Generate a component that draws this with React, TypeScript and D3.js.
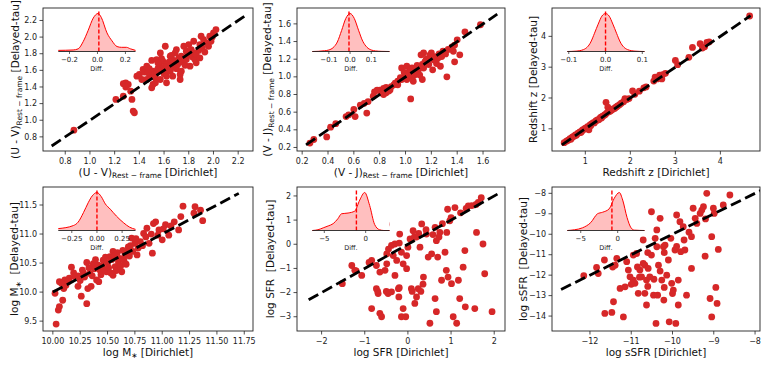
import React from "react";
import * as d3 from "d3";

// ---- values ----
// scatter: [Dirichlet, Delayed-tau]
const uvPoints: [number, number][] = [
  [0.87, 0.88], [1.21, 1.25], [1.27, 1.29], [1.29, 1.45], [1.27, 1.44], [1.31, 1.43], [1.29, 1.4],
  [1.34, 1.25], [1.35, 1.11], [1.36, 1.09], [1.33, 1.35], [1.38, 1.53], [1.4, 1.55], [1.42, 1.49],
  [1.43, 1.61], [1.44, 1.58], [1.46, 1.49], [1.46, 1.65], [1.48, 1.62], [1.49, 1.53], [1.5, 1.72],
  [1.5, 1.39], [1.51, 1.59], [1.51, 1.43], [1.52, 1.55], [1.53, 1.51], [1.54, 1.73], [1.54, 1.57],
  [1.55, 1.62], [1.56, 1.66], [1.57, 1.81], [1.57, 1.49], [1.58, 1.6], [1.59, 1.71], [1.6, 1.56],
  [1.6, 1.64], [1.61, 1.89], [1.62, 1.65], [1.62, 1.53], [1.62, 1.45], [1.63, 1.6], [1.64, 1.7],
  [1.65, 1.59], [1.65, 1.77], [1.66, 1.63], [1.67, 1.53], [1.67, 1.67], [1.68, 1.72], [1.69, 1.81],
  [1.7, 1.62], [1.71, 1.67], [1.72, 1.75], [1.73, 1.55], [1.74, 1.77], [1.74, 1.59], [1.75, 1.7],
  [1.76, 1.89], [1.77, 1.66], [1.78, 1.83], [1.78, 1.73], [1.79, 1.78], [1.8, 1.91], [1.81, 1.65],
  [1.82, 1.85], [1.83, 1.76], [1.84, 1.95], [1.84, 1.81], [1.85, 1.73], [1.86, 1.79], [1.86, 1.69],
  [1.88, 1.84], [1.89, 1.91], [1.89, 1.75], [1.9, 2.01], [1.91, 1.87], [1.92, 1.97], [1.93, 1.82],
  [1.95, 1.93], [1.96, 1.89], [1.97, 2.01], [1.98, 1.95], [2.0, 2.05], [2.02, 2.09], [1.99, 2.0],
  [1.7, 1.85], [1.58, 1.74], [1.66, 1.78], [1.55, 1.69], [1.47, 1.57], [1.53, 1.45], [1.73, 1.49],
];

const vjPoints: [number, number][] = [
  [0.26, 0.25], [0.29, 0.29], [0.39, 0.32], [0.42, 0.43], [0.46, 0.47], [0.54, 0.55], [0.56, 0.57],
  [0.61, 0.55], [0.65, 0.68], [0.7, 0.59], [0.71, 0.72], [0.76, 0.83], [0.8, 0.85], [0.83, 0.8],
  [0.85, 0.88], [0.88, 0.85], [0.91, 0.91], [0.94, 0.95], [0.97, 0.97], [0.99, 1.0], [1.04, 0.75],
  [1.03, 1.06], [1.05, 1.1], [1.07, 1.02], [1.1, 1.08], [1.13, 1.14], [1.15, 1.17], [1.18, 1.21],
  [1.2, 1.27], [1.23, 1.23], [1.26, 1.26], [1.27, 1.12], [1.29, 1.29], [1.32, 1.0], [1.36, 1.34],
  [1.38, 1.17], [1.4, 1.42], [1.42, 1.25], [1.46, 1.51], [1.58, 1.59], [1.12, 1.25], [1.14, 1.27],
  [1.21, 1.08], [0.97, 1.1], [1.01, 1.12], [0.92, 0.93], [0.85, 0.82], [0.81, 0.82], [0.78, 0.85],
  [0.75, 0.78], [0.89, 0.89], [0.94, 0.91], [1.01, 0.97], [1.05, 1.0], [1.07, 1.06], [1.11, 1.02],
  [1.14, 1.1], [1.18, 1.14], [1.24, 1.15], [1.28, 1.23], [1.33, 1.31], [1.37, 1.29], [1.38, 1.36],
  [1.02, 1.02], [0.99, 1.05], [1.06, 0.95], [1.13, 0.97], [0.68, 0.7], [0.6, 0.63], [0.87, 0.84],
  [1.16, 1.2], [1.22, 1.19], [1.09, 1.13], [0.96, 0.99], [1.0, 1.04], [1.04, 1.08], [1.25, 1.21],
  [1.31, 1.26], [1.19, 1.25], [0.83, 0.87],
];

const zPoints: [number, number][] = [
  [0.53, 0.55], [0.58, 0.6], [0.62, 0.63], [0.66, 0.68], [0.68, 0.66], [0.72, 0.74], [0.75, 0.76],
  [0.78, 0.8], [0.8, 0.79], [0.83, 0.85], [0.86, 0.87], [0.88, 0.9], [0.9, 0.88], [0.93, 0.95],
  [0.95, 0.97], [0.98, 0.99], [1.0, 1.02], [1.02, 1.0], [1.05, 1.07], [1.07, 1.05], [1.08, 0.97],
  [1.1, 1.12], [1.12, 1.1], [1.15, 1.17], [1.18, 1.2], [1.2, 1.19], [1.23, 1.25], [1.25, 1.27],
  [1.28, 1.3], [1.3, 1.29], [1.33, 1.35], [1.35, 1.38], [1.38, 1.4], [1.4, 1.42], [1.43, 1.45],
  [1.45, 1.47], [1.46, 1.86], [1.5, 1.7], [1.48, 1.52], [1.52, 1.55], [1.55, 1.57], [1.58, 1.6],
  [1.62, 1.65], [1.65, 1.66], [1.68, 1.7], [1.72, 1.74], [1.76, 1.78], [1.8, 1.83], [1.85, 1.88],
  [1.88, 1.98], [1.92, 1.95], [1.97, 1.98], [2.05, 2.23], [2.1, 2.12], [2.2, 2.22], [2.3, 2.33],
  [2.35, 2.36], [2.52, 2.55], [2.55, 2.68], [2.6, 2.62], [2.65, 2.74], [2.7, 2.62], [2.72, 2.76],
  [2.78, 2.8], [3.0, 3.22], [3.05, 3.08], [3.3, 3.32], [3.38, 3.64], [3.55, 3.76], [3.6, 3.62],
  [3.65, 3.66], [3.7, 3.8], [3.75, 3.82], [4.65, 4.66], [0.7, 0.71], [0.92, 0.91], [1.13, 1.15],
  [1.36, 1.35], [1.6, 1.63], [1.7, 1.72],
];

const massPoints: [number, number][] = [
  [10.03, 9.45], [10.05, 9.69], [10.06, 9.75], [10.09, 9.86], [10.02, 9.98], [10.06, 10.18],
  [10.11, 10.21], [10.15, 10.24], [10.17, 10.43], [10.2, 10.27], [10.23, 10.1], [10.26, 9.93],
  [10.31, 9.8], [10.32, 10.06], [10.29, 10.26], [10.34, 10.32], [10.37, 10.49], [10.4, 10.21],
  [10.43, 10.38], [10.46, 10.55], [10.49, 10.35], [10.52, 10.61], [10.55, 10.7], [10.57, 10.44],
  [10.6, 10.52], [10.63, 10.35], [10.66, 10.64], [10.69, 10.78], [10.72, 10.93], [10.75, 10.84],
  [10.77, 10.64], [10.8, 10.87], [10.83, 11.01], [10.86, 11.1], [10.88, 10.84], [10.91, 10.67],
  [10.94, 11.21], [10.97, 11.07], [11.0, 10.9], [11.03, 11.16], [11.06, 10.98], [11.11, 11.21],
  [11.15, 11.07], [11.17, 11.3], [11.19, 11.48], [11.3, 11.47], [11.35, 11.41], [11.37, 11.23],
  [11.29, 11.36], [10.12, 10.12], [10.08, 10.15], [10.25, 10.2], [10.28, 10.33], [10.33, 10.42],
  [10.36, 10.28], [10.38, 10.4], [10.41, 10.47], [10.44, 10.3], [10.45, 10.45], [10.47, 10.39],
  [10.5, 10.5], [10.51, 10.42], [10.53, 10.33], [10.54, 10.56], [10.56, 10.62], [10.58, 10.37],
  [10.59, 10.68], [10.61, 10.58], [10.62, 10.45], [10.64, 10.72], [10.65, 10.55], [10.67, 10.48],
  [10.68, 10.7], [10.7, 10.62], [10.71, 10.8], [10.73, 10.7], [10.76, 10.92], [10.78, 10.76],
  [10.82, 10.8], [10.85, 10.95], [10.9, 11.0], [10.92, 11.18], [10.96, 10.98], [11.01, 11.09],
  [11.08, 11.14], [10.39, 10.56], [10.48, 10.6], [10.23, 10.28], [10.19, 10.33], [10.14, 10.18],
  [10.1, 10.06], [10.35, 10.1], [10.42, 10.18], [10.55, 10.29], [10.31, 10.51], [10.27, 10.38],
];

const sfrPoints: [number, number][] = [
  [-1.52, -1.63], [-1.3, -0.88], [-1.23, -1.08], [-1.07, -1.29], [-0.84, -0.67], [-0.84, -2.66],
  [-0.73, -1.84], [-0.69, -2.04], [-0.65, -2.86], [-0.61, -3.0], [-0.53, -1.08], [-0.49, -0.4],
  [-0.46, -2.04], [-0.38, -1.97], [-0.38, -0.05], [-0.3, 0.01], [-0.3, -1.29], [-0.26, -0.67],
  [-0.22, -1.84], [-0.21, -2.18], [-0.19, 0.42], [-0.15, -3.0], [-0.11, -2.66], [-0.05, -3.0],
  [-0.03, -0.47], [0.0, -0.12], [0.05, 0.22], [0.08, -1.84], [0.12, 0.56], [0.16, -2.45],
  [0.2, -2.18], [0.24, -1.84], [0.28, -0.12], [0.32, 0.84], [0.36, -1.36], [0.43, 0.42],
  [0.47, -0.53], [0.51, -3.27], [0.55, -0.4], [0.63, 0.7], [0.63, -2.25], [0.66, -2.79],
  [0.66, 0.15], [0.69, -0.53], [0.74, 0.49], [0.78, -1.49], [0.86, -0.33], [0.89, -1.08],
  [0.9, 0.49], [0.93, -1.36], [0.97, 0.97], [1.01, -1.63], [1.05, -3.0], [1.09, 1.52],
  [1.13, -3.27], [1.17, -1.49], [1.2, -2.25], [1.28, -0.95], [1.32, -0.26], [1.33, -2.59],
  [1.4, 1.59], [1.55, -2.66], [1.59, 0.49], [1.63, 1.73], [1.7, 1.93], [1.74, 0.01], [1.78, -1.22],
  [1.95, -2.79], [-1.2, -1.1], [-0.9, -0.75], [-0.45, -0.2], [-0.2, 0.05], [0.15, 0.3], [0.25, 0.45],
  [0.42, 0.6], [0.8, 0.85], [1.0, 1.1], [1.22, 1.3], [1.35, 1.48], [1.48, 1.6], [1.58, 1.65],
  [0.92, 1.45], [-0.15, -0.33], [-0.11, -0.81], [-0.03, -1.01], [-0.73, -0.88], [-0.65, -1.15],
  [-0.49, -0.81], [-0.34, -0.47], [-0.7, -1.95], [-0.5, -1.95], [-0.2, -1.8], [0.1, -1.95],
  [0.3, -1.95], [0.35, -1.65], [-0.5, 0.83], [0.58, 0.4], [0.72, 0.3], [0.2, 0.3],
];

const ssfrPoints: [number, number][] = [
  [-12.15, -12.03], [-11.84, -11.62], [-11.8, -11.92], [-11.65, -11.26], [-11.64, -13.87],
  [-11.47, -13.82], [-11.43, -13.3], [-11.39, -11.51], [-11.35, -11.18], [-11.27, -12.65],
  [-11.19, -14.04], [-11.15, -12.57], [-11.11, -11.34], [-11.07, -11.75], [-11.03, -12.08],
  [-10.95, -11.02], [-10.91, -12.4], [-10.87, -10.94], [-10.83, -12.89], [-10.79, -11.75],
  [-10.75, -12.08], [-10.71, -10.28], [-10.71, -11.43], [-10.67, -11.51], [-10.67, -12.89],
  [-10.63, -12.24], [-10.63, -13.46], [-10.59, -11.67], [-10.55, -12.08], [-10.51, -8.9],
  [-10.51, -11.02], [-10.46, -12.98], [-10.42, -10.2], [-10.4, -14.36], [-10.38, -9.79],
  [-10.38, -10.61], [-10.36, -12.98], [-10.34, -11.51], [-10.3, -9.22], [-10.26, -12.24],
  [-10.22, -10.61], [-10.21, -13.22], [-10.18, -10.53], [-10.14, -12.0], [-10.1, -11.26],
  [-10.08, -14.28], [-10.04, -10.2], [-10.02, -12.4], [-9.98, -12.73], [-9.94, -10.77],
  [-9.92, -14.36], [-9.9, -9.06], [-9.86, -12.24], [-9.86, -13.46], [-9.82, -9.39],
  [-9.8, -10.85], [-9.74, -9.63], [-9.72, -10.28], [-9.7, -10.77], [-9.66, -12.98],
  [-9.54, -11.67], [-9.54, -10.12], [-9.5, -8.73], [-9.45, -9.22], [-9.41, -9.47], [-9.33, -8.98],
  [-9.29, -8.82], [-9.25, -8.65], [-9.21, -11.07], [-9.17, -8.0], [-9.09, -13.14], [-9.05, -14.04],
  [-9.05, -10.12], [-9.01, -8.73], [-8.99, -8.98], [-8.95, -12.6], [-8.92, -13.38], [-8.89, -10.74],
  [-8.77, -8.57], [-8.61, -8.08], [-10.85, -11.6], [-10.95, -12.25], [-11.0, -12.45],
  [-10.8, -12.1], [-10.6, -12.55], [-10.45, -12.2], [-10.2, -12.6], [-10.0, -12.9], [-10.3, -11.8],
  [-10.6, -10.9], [-10.2, -10.9], [-9.9, -10.6], [-9.6, -9.9], [-9.2, -9.25], [-11.45, -11.6],
];

// kde insets: difference value, relative density
const uvDiff = [-0.28, -0.174, -0.138, -0.102, -0.066, -0.03, 0.004, 0.027, 0.068, 0.104, 0.14, 0.171, 0.207, 0.236, 0.272];
const uvDensity = [0.03, 0.04, 0.07, 0.26, 0.56, 0.88, 1.0, 0.9, 0.49, 0.28, 0.13, 0.11, 0.11, 0.07, 0.03];
const vjDiff = [-0.178, -0.15, -0.12, -0.1, -0.08, -0.06, -0.04, -0.02, 0.0, 0.02, 0.04, 0.06, 0.08, 0.1, 0.12, 0.15, 0.186];
const vjDensity = [0.0, 0.005, 0.02, 0.04, 0.1, 0.25, 0.55, 0.87, 1.0, 0.87, 0.56, 0.27, 0.11, 0.04, 0.015, 0.004, 0.0];
const zDiff = [-0.104, -0.08, -0.06, -0.04, -0.03, -0.02, -0.01, 0.0, 0.01, 0.02, 0.03, 0.04, 0.06, 0.08, 0.106];
const zDensity = [0.0, 0.01, 0.05, 0.25, 0.48, 0.72, 0.93, 1.0, 0.93, 0.72, 0.48, 0.25, 0.05, 0.01, 0.0];
const massDiff = [-0.384, -0.234, -0.187, -0.134, -0.087, -0.047, 0.0, 0.043, 0.083, 0.133, 0.193, 0.266, 0.323, 0.383];
const massDensity = [0.05, 0.13, 0.22, 0.47, 0.73, 0.91, 1.0, 0.89, 0.7, 0.56, 0.38, 0.2, 0.09, 0.03];
const sfrDiff = [-6.45, -5.76, -5.13, -4.53, -3.93, -3.36, -2.92, -2.12, -1.32, -0.72, -0.12, 0.48, 1.08, 1.68, 2.2, 2.88];
const sfrDensity = [0.0, 0.02, 0.07, 0.12, 0.18, 0.31, 0.44, 0.46, 0.51, 0.8, 1.0, 0.66, 0.16, 0.02, 0.0, 0.0];
const ssfrDiff = [-6.82, -5.83, -4.77, -3.64, -2.73, -2.05, -1.15, -0.46, 0.22, 0.68, 1.27, 1.81, 2.26, 3.63];
const ssfrDensity = [0.0, 0.02, 0.07, 0.21, 0.44, 0.48, 0.57, 0.85, 1.0, 0.8, 0.34, 0.07, 0.01, 0.0];
const diffMarkers = [0.01, -0.005, 0.0, 0.0, -1.12, -0.78];

// tick values
const uvTicks = [0.8, 1.0, 1.2, 1.4, 1.6, 1.8, 2.0, 2.2];
const vjTicks = [0.2, 0.4, 0.6, 0.8, 1.0, 1.2, 1.4, 1.6];
const zTicks = [1, 2, 3, 4];
const massXTicks = [10.0, 10.25, 10.5, 10.75, 11.0, 11.25, 11.5, 11.75];
const massYTicks = [9.5, 10.0, 10.5, 11.0, 11.5];
const sfrXTicks = [-2, -1, 0, 1, 2];
const sfrYTicks = [-3, -2, -1, 0, 1, 2];
const ssfrXTicks = [-12, -11, -10, -9, -8];
const ssfrYTicks = [-14, -13, -12, -11, -10, -9, -8];

// ---- layout ----
const W = 770;
const H = 365;
const cols = [[43, 253], [297, 505], [552, 760]];
const rows = [[8, 151], [187, 331]];
const FONT = "DejaVu Sans, sans-serif";
const RED = "#d62728";

type Seg = { t: string; sub?: boolean };
const rf: Seg = { t: "Rest − frame", sub: true };

const panels = [
  {
    col: 0, row: 0, points: uvPoints, xDomain: [0.62, 2.32], yDomain: [0.63, 2.35],
    xTicks: uvTicks, yTicks: uvTicks, xFmt: ".1f", yFmt: ".1f", line: [0.69, 2.26], yOff: 24,
    xLabel: [{ t: "(U - V)" }, rf, { t: " [Dirichlet]" }],
    yLabel: [{ t: "(U - V)" }, rf, { t: " [Delayed-tau]" }],
    inset: { diff: uvDiff, density: uvDensity, domain: [-0.28, 0.272], ticks: [-0.2, 0, 0.2], fmt: ".1f" },
  },
  {
    col: 1, row: 0, points: vjPoints, xDomain: [0.16, 1.77], yDomain: [0.16, 1.78],
    xTicks: vjTicks, yTicks: vjTicks, xFmt: ".1f", yFmt: ".1f", line: [0.23, 1.71], yOff: 26,
    xLabel: [{ t: "(V - J)" }, rf, { t: " [Dirichlet]" }],
    yLabel: [{ t: "(V - J)" }, rf, { t: " [Delayed-tau]" }],
    inset: { diff: vjDiff, density: vjDensity, domain: [-0.178, 0.186], ticks: [-0.1, 0, 0.1], fmt: ".1f" },
  },
  {
    col: 2, row: 0, points: zPoints, xDomain: [0.26, 4.88], yDomain: [0.28, 4.92],
    xTicks: zTicks, yTicks: zTicks, xFmt: "d", yFmt: "d", line: [0.48, 4.67], yOff: 15,
    xLabel: [{ t: "Redshift z [Dirichlet]" }],
    yLabel: [{ t: "Redshift z [Delayed-tau]" }],
    inset: { diff: zDiff, density: zDensity, domain: [-0.104, 0.106], ticks: [-0.1, 0, 0.1], fmt: ".1f" },
  },
  {
    col: 0, row: 1, points: massPoints, xDomain: [9.91, 11.83], yDomain: [9.33, 11.81],
    xTicks: massXTicks, yTicks: massYTicks, xFmt: ".2f", yFmt: ".1f", line: [10.0, 11.7], yOff: 25,
    xLabel: [{ t: "log M" }, { t: "∗", sub: true }, { t: " [Dirichlet]" }],
    yLabel: [{ t: "log M" }, { t: "∗", sub: true }, { t: "  [Delayed-tau]" }],
    inset: { diff: massDiff, density: massDensity, domain: [-0.384, 0.383], ticks: [-0.25, 0, 0.25], fmt: ".2f" },
  },
  {
    col: 1, row: 1, points: sfrPoints, xDomain: [-2.57, 2.25], yDomain: [-3.59, 2.37],
    xTicks: sfrXTicks, yTicks: sfrYTicks, xFmt: "d", yFmt: "d", line: [-2.3, 2.08], yOff: 23,
    xLabel: [{ t: "log SFR [Dirichlet]" }],
    yLabel: [{ t: "log SFR  [Delayed-tau]" }],
    inset: { diff: sfrDiff, density: sfrDensity, domain: [-6.45, 2.88], ticks: [-5, 0], fmt: "d" },
  },
  {
    col: 2, row: 1, points: ssfrPoints, xDomain: [-12.92, -7.88], yDomain: [-14.73, -7.69],
    xTicks: ssfrXTicks, yTicks: ssfrYTicks, xFmt: "d", yFmt: "d", line: [-12.7, -7.85], yOff: 25,
    xLabel: [{ t: "log sSFR [Dirichlet]" }],
    yLabel: [{ t: "log sSFR  [Delayed-tau]" }],
    inset: { diff: ssfrDiff, density: ssfrDensity, domain: [-6.82, 3.63], ticks: [-5, 0], fmt: "d" },
  },
];

const Label = ({ segs }: { segs: Seg[] }) => (
  <>
    {segs.map((s, i) => (
      <tspan
        key={i}
        fontSize={s.sub ? 7.5 : 10.5}
        dy={s.sub ? 2.5 : i > 0 && segs[i - 1].sub ? -2.5 : 0}
        style={{ whiteSpace: "pre" }}
      >
        {s.t}
      </tspan>
    ))}
  </>
);

const Panel = ({ p, idx }: { p: any; idx: number }) => {
  const [x0, x1] = cols[p.col];
  const [y0, y1] = rows[p.row];
  const x = d3.scaleLinear().domain(p.xDomain).range([x0, x1]);
  const y = d3.scaleLinear().domain(p.yDomain).range([y1, y0]);
  const xf = d3.format(p.xFmt);
  const yf = d3.format(p.yFmt);

  // inset geometry
  const ins = p.inset;
  const ix0 = x0 + 15.3;
  const ix1 = x0 + 92.5;
  const base = y0 + 43.5;
  const top = y0 + 3.6;
  const ix = d3.scaleLinear().domain(ins.domain).range([ix0, ix1]);
  const iy = d3.scaleLinear().domain([0, (d3.max(ins.density) as number) * 1.05]).range([base, top]);
  const kde: [number, number][] = ins.diff.map((d: number, i: number) => [d, ins.density[i]]);
  const area = d3.area<[number, number]>().x((d) => ix(d[0])).y0(base).y1((d) => iy(d[1])).curve(d3.curveMonotoneX);
  const line = d3.line<[number, number]>().x((d) => ix(d[0])).y((d) => iy(d[1])).curve(d3.curveMonotoneX);
  const ifmt = d3.format(ins.fmt);
  const marker = diffMarkers[idx];

  const clipId = `clip-${idx}`;
  return (
    <g>
      <clipPath id={clipId}>
        <rect x={x0} y={y0} width={x1 - x0} height={y1 - y0} />
      </clipPath>
      <g clipPath={`url(#${clipId})`}>
        {p.points.map((d: [number, number], i: number) => (
          <circle key={i} cx={x(d[0])} cy={y(d[1])} r={3.4} fill={RED} />
        ))}
        <line
          x1={x(p.line[0])} y1={y(p.line[0])} x2={x(p.line[1])} y2={y(p.line[1])}
          stroke="#000" strokeWidth={2.8} strokeDasharray="11,4.8"
        />
      </g>
      <rect x={x0} y={y0} width={x1 - x0} height={y1 - y0} fill="none" stroke="#222" strokeWidth={0.9} />
      {/* x axis */}
      {p.xTicks.map((t: number) => (
        <g key={"x" + t} transform={`translate(${x(t)},${y1})`}>
          <line y2={3.5} stroke="#222" strokeWidth={0.8} />
          <text y={12.5} textAnchor="middle" fontSize={8} fill="#222">{xf(t)}</text>
        </g>
      ))}
      {p.yTicks.map((t: number) => (
        <g key={"y" + t} transform={`translate(${x0},${y(t)})`}>
          <line x2={-3.5} stroke="#222" strokeWidth={0.8} />
          <text x={-6} dy="0.33em" textAnchor="end" fontSize={8} fill="#222">{yf(t)}</text>
        </g>
      ))}
      <text x={(x0 + x1) / 2} y={y1 + 24.5} textAnchor="middle" fill="#111">
        <Label segs={p.xLabel} />
      </text>
      <text transform={`translate(${x0 - p.yOff},${(y0 + y1) / 2}) rotate(-90)`} textAnchor="middle" fill="#111">
        <Label segs={p.yLabel} />
      </text>
      {/* inset kde */}
      <rect x={ix0} y={top} width={ix1 - ix0} height={base - top} fill="#fff" />
      <path d={area(kde) as string} fill="#ff0000" fillOpacity={0.25} />
      <path d={line(kde) as string} fill="none" stroke="#ff0000" strokeWidth={1} />
      <line x1={ix(marker)} x2={ix(marker)} y1={base} y2={top} stroke="#ff0000" strokeWidth={1.4} strokeDasharray="4,2" />
      <line x1={ix0} x2={ix1} y1={base} y2={base} stroke="#222" strokeWidth={0.9} />
      {ins.ticks.map((t: number) => (
        <g key={"i" + t} transform={`translate(${ix(t)},${base})`}>
          <line y2={2.5} stroke="#222" strokeWidth={0.7} />
          <text y={10} textAnchor="middle" fontSize={7} fill="#222">{ifmt(t)}</text>
        </g>
      ))}
      <text x={(ix0 + ix1) / 2} y={base + 19} textAnchor="middle" fontSize={6.5} fill="#222">Diff.</text>
    </g>
  );
};

export default function App() {
  return (
    <svg
      width={W}
      height={H}
      viewBox={`0 0 ${W} ${H}`}
      style={{ position: "absolute", left: 0, top: 0, background: "#fff" }}
      fontFamily={FONT}
    >
      {panels.map((p, i) => (
        <Panel key={i} p={p} idx={i} />
      ))}
    </svg>
  );
}
